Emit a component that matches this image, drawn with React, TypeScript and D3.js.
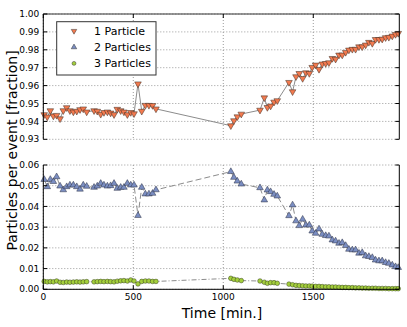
import React from "react";
import * as d3 from "d3";

// ---- Data ----
const times1 = [5,22,39,56,74,93,111,130,148,167,186,204,222,241,282,300,319,337,356,374,393,411,430,448,467,486,504,526,547,567,587,607,626];
const times2 = [1042,1059,1078,1100,1204,1228,1245,1263,1282,1300,1365,1385,1404,1422,1441,1459,1478,1494,1513,1532,1550,1569,1587,1606,1624,1643,1661,1680,1698,1717,1735,1754,1772,1791,1809,1828,1846,1865,1883,1902,1920,1939,1957,1972];

const onePart1 = [0.9438,0.9425,0.946,0.943,0.9434,0.9415,0.946,0.9477,0.946,0.9453,0.9457,0.9466,0.947,0.9453,0.946,0.9457,0.944,0.945,0.9453,0.9447,0.9438,0.9468,0.946,0.9453,0.9438,0.945,0.9443,0.961,0.9457,0.949,0.949,0.9489,0.947];
const onePart2 = [0.9376,0.9404,0.9426,0.9441,0.9463,0.9532,0.9478,0.9486,0.9508,0.9516,0.9618,0.9566,0.965,0.9668,0.964,0.9672,0.9668,0.9702,0.9715,0.9691,0.9721,0.9724,0.9728,0.9752,0.9748,0.9771,0.9771,0.9786,0.9799,0.9803,0.9803,0.9817,0.9817,0.9827,0.9842,0.9836,0.9858,0.9858,0.986,0.9868,0.987,0.9877,0.9886,0.9892];

const twoPart1 = [0.053,0.0495,0.053,0.052,0.0543,0.0498,0.048,0.0495,0.0503,0.0503,0.0495,0.0483,0.0503,0.0497,0.0492,0.0498,0.0511,0.0503,0.0498,0.05,0.0511,0.0487,0.0492,0.0492,0.0511,0.0503,0.0503,0.0356,0.0492,0.046,0.046,0.0463,0.048];
const twoPart2 = [0.0568,0.054,0.0522,0.0508,0.049,0.0431,0.0479,0.0471,0.0458,0.045,0.0355,0.0407,0.033,0.0307,0.0338,0.031,0.031,0.0281,0.027,0.0291,0.0265,0.0259,0.0257,0.0238,0.0233,0.0222,0.0225,0.0211,0.0193,0.019,0.019,0.0174,0.0177,0.0161,0.0158,0.0153,0.0141,0.0137,0.0137,0.0129,0.0125,0.0117,0.0109,0.0105];

const threePart1 = [0.0038,0.0036,0.0037,0.0036,0.004,0.0034,0.0033,0.0035,0.0034,0.0035,0.0036,0.0035,0.0036,0.0037,0.0036,0.0037,0.0038,0.0037,0.0038,0.0037,0.0036,0.0039,0.0041,0.0042,0.004,0.0045,0.004,0.0026,0.0038,0.004,0.004,0.0038,0.0038];
const threePart2 = [0.0053,0.0048,0.0045,0.0042,0.004,0.0034,0.0029,0.0032,0.0032,0.0029,0.0025,0.0022,0.0019,0.0018,0.0017,0.0016,0.0016,0.0015,0.0014,0.0014,0.0013,0.0012,0.0012,0.0011,0.0011,0.001,0.0009,0.0009,0.0008,0.0008,0.0007,0.0007,0.0006,0.0006,0.0005,0.0005,0.0005,0.0004,0.0004,0.0004,0.0003,0.0003,0.0003,0.0003];

const xTicks = [0, 500, 1000, 1500];
const topTicks = [0.93, 0.94, 0.95, 0.96, 0.97, 0.98, 0.99, 1.0];
const botTicks = [0.0, 0.01, 0.02, 0.03, 0.04, 0.05, 0.06];
const seriesNames = ["1 Particle", "2 Particles", "3 Particles"];

const times = [...times1, ...times2];
const onePart = [...onePart1, ...onePart2];
const twoPart = [...twoPart1, ...twoPart2];
const threePart = [...threePart1, ...threePart2];

const FONT = "DejaVu Sans, sans-serif";
const ORANGE = "#f27a4f";
const BLUE = "#7b8ec2";
const GREEN = "#a4cf3c";

export default function App() {
  const L = 43.3, R = 399.3;
  const x = d3.scaleLinear().domain([0, 1978]).range([L, R]);
  const yT = d3.scaleLinear().domain([0.93, 1.0]).range([139.3, 14]);
  const yB = d3.scaleLinear().domain([0, 0.06]).range([289.3, 165]);

  const pts = (vals: number[]) => times.map((t, i) => [t, vals[i]] as [number, number]);
  const lineT = d3.line<[number, number]>().x(d => x(d[0])).y(d => yT(d[1]));
  const lineB = d3.line<[number, number]>().x(d => x(d[0])).y(d => yB(d[1]));

  const tri = d3.symbol().type(d3.symbolTriangle).size(19)() as string;
  const circ = d3.symbol().type(d3.symbolCircle).size(17)() as string;
  const triL = d3.symbol().type(d3.symbolTriangle).size(13)() as string;
  const circL = d3.symbol().type(d3.symbolCircle).size(12)() as string;

  const grid = "#9a9a9a";
  const gridDash = "1,2";

  const [yTop0, yTop1] = yT.range();
  const [yBot0, yBot1] = yB.range();

  return (
    <svg width={407} height={327} style={{ position: "absolute", left: 0, top: 0, background: "#fff" }} fontFamily={FONT}>
      <rect width={407} height={327} fill="#fff" />
      {/* Top panel grid */}
      {topTicks.map(v => (
        <line key={"tg" + v} x1={L} x2={R} y1={yT(v)} y2={yT(v)} stroke={grid} strokeDasharray={gridDash} strokeWidth={1} />
      ))}
      {xTicks.map(v => (
        <line key={"tgx" + v} x1={x(v)} x2={x(v)} y1={yTop1} y2={yTop0} stroke={grid} strokeDasharray={gridDash} strokeWidth={1} />
      ))}
      {/* Bottom panel grid */}
      {botTicks.map(v => (
        <line key={"bg" + v} x1={L} x2={R} y1={yB(v)} y2={yB(v)} stroke={grid} strokeDasharray={gridDash} strokeWidth={1} />
      ))}
      {xTicks.map(v => (
        <line key={"bgx" + v} x1={x(v)} x2={x(v)} y1={yBot1} y2={yBot0} stroke={grid} strokeDasharray={gridDash} strokeWidth={1} />
      ))}

      {/* Lines */}
      <path d={lineT(pts(onePart)) as string} fill="none" stroke="#8c8c8c" strokeWidth={1} />
      <path d={lineB(pts(twoPart)) as string} fill="none" stroke="#8c8c8c" strokeWidth={1} strokeDasharray="6,3" />
      <path d={lineB(pts(threePart)) as string} fill="none" stroke="#8c8c8c" strokeWidth={1} strokeDasharray="5,2,1,2" />

      {/* Markers */}
      {times.map((t, i) => (
        <path key={"o" + i} d={tri} transform={`translate(${x(t)},${yT(onePart[i])}) rotate(180)`} fill={ORANGE} stroke="#3a2a20" strokeWidth={0.5} />
      ))}
      {times.map((t, i) => (
        <path key={"b" + i} d={tri} transform={`translate(${x(t)},${yB(twoPart[i])})`} fill={BLUE} stroke="#2a2f40" strokeWidth={0.5} />
      ))}
      {times.map((t, i) => (
        <path key={"g" + i} d={circ} transform={`translate(${x(t)},${yB(threePart[i])})`} fill={GREEN} stroke="#34401a" strokeWidth={0.5} />
      ))}

      {/* Top panel spines */}
      <line x1={L} x2={R} y1={yTop1} y2={yTop1} stroke="#333" strokeWidth={1} />
      <line x1={L} x2={L} y1={yTop1} y2={yTop0} stroke="#000" strokeWidth={1} />
      <line x1={R} x2={R} y1={yTop1} y2={yTop0} stroke="#000" strokeWidth={1} />
      {/* Bottom panel spines */}
      <line x1={L} x2={R} y1={yBot0} y2={yBot0} stroke="#000" strokeWidth={1} />
      <line x1={L} x2={L} y1={yBot1} y2={yBot0} stroke="#000" strokeWidth={1} />
      <line x1={R} x2={R} y1={yBot1} y2={yBot0} stroke="#000" strokeWidth={1} />

      {/* Ticks */}
      {topTicks.map(v => (
        <g key={"tt" + v}>
          <line x1={L} x2={L + 4} y1={yT(v)} y2={yT(v)} stroke="#000" />
          <line x1={R - 4} x2={R} y1={yT(v)} y2={yT(v)} stroke="#000" />
          <text x={L - 4} y={yT(v)} dy="0.35em" textAnchor="end" fontSize={9}>{v.toFixed(2)}</text>
        </g>
      ))}
      {botTicks.map(v => (
        <g key={"bt" + v}>
          <line x1={L} x2={L + 4} y1={yB(v)} y2={yB(v)} stroke="#000" />
          <line x1={R - 4} x2={R} y1={yB(v)} y2={yB(v)} stroke="#000" />
          <text x={L - 4} y={yB(v)} dy="0.35em" textAnchor="end" fontSize={9}>{v.toFixed(2)}</text>
        </g>
      ))}
      {xTicks.map(v => (
        <g key={"xt" + v}>
          <line x1={x(v)} x2={x(v)} y1={yTop1} y2={yTop1 + 4} stroke="#000" />
          <line x1={x(v)} x2={x(v)} y1={yBot0 - 4} y2={yBot0} stroke="#000" />
          <text x={x(v)} y={yBot0 + 11} textAnchor="middle" fontSize={9}>{v}</text>
        </g>
      ))}

      {/* Axis labels */}
      <text x={222} y={318} textAnchor="middle" fontSize={14}>Time [min.]</text>
      <text transform="translate(17,150.5) rotate(-90)" textAnchor="middle" fontSize={14}>Particles per event [fraction]</text>

      {/* Legend */}
      <rect x={56.7} y={21.7} width={99.3} height={53.3} fill="#fff" stroke="#333" strokeWidth={1} />
      {seriesNames.map((name, i) => {
        const cy = 31 + i * 16.2;
        const shape = i === 2 ? circL : triL;
        const fill = [ORANGE, BLUE, GREEN][i];
        const rot = i === 0 ? " rotate(180)" : "";
        return (
          <g key={name}>
            <path d={shape} transform={`translate(74,${cy})${rot}`} fill={fill} stroke="#333" strokeWidth={0.5} />
            <text x={94} y={cy} dy="0.36em" fontSize={11}>{name}</text>
          </g>
        );
      })}
    </svg>
  );
}
